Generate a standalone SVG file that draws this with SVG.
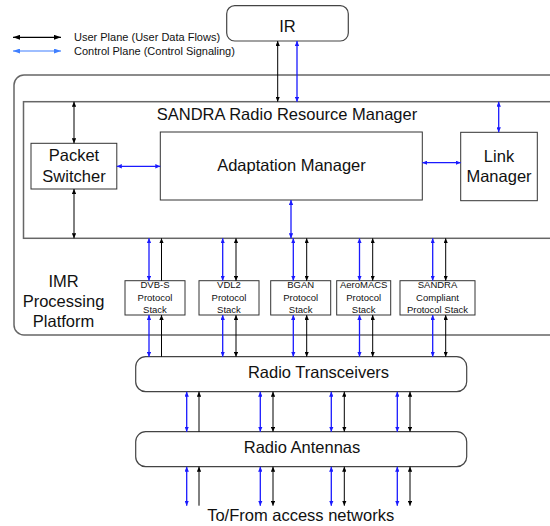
<svg xmlns="http://www.w3.org/2000/svg" width="550" height="526" viewBox="0 0 550 526">
  <style>
    text { font-family: "Liberation Sans", Arial, sans-serif; fill: #111; text-anchor: middle; }
    .big { font-size: 16.5px; }
    .small { font-size: 9.5px; }
    .legend { font-size: 11px; text-anchor: start; }
    .box { fill: #fff; stroke: #333; stroke-width: 1; }
    .frame { fill: #fff; stroke: #666; stroke-width: 1.5; }
    .rbox { fill: #fff; stroke: #444; stroke-width: 1.2; }
    .up { stroke: #000; stroke-width: 1; fill: none; }
    .cp { stroke: #1a1aff; stroke-width: 1.3; fill: none; }
    .dbl-up { marker-start: url(#ahK); marker-end: url(#ahK); }
    .one-up { marker-end: url(#ahK); }
    .dbl-cp { marker-start: url(#ahB); marker-end: url(#ahB); }
  </style>
  <defs>
    <marker id="ahK" viewBox="0 0 5 4.4" refX="5" refY="2.2" markerWidth="5" markerHeight="4.4" markerUnits="userSpaceOnUse" orient="auto-start-reverse">
      <path d="M0,0 L5,2.2 L0,4.4 z" fill="#000"/>
    </marker>
    <marker id="ahB" viewBox="0 0 5 4.4" refX="5" refY="2.2" markerWidth="5" markerHeight="4.4" markerUnits="userSpaceOnUse" orient="auto-start-reverse">
      <path d="M0,0 L5,2.2 L0,4.4 z" fill="#1a1aff"/>
    </marker>
    <marker id="lgK" viewBox="0 0 7 5" refX="7" refY="2.5" markerWidth="7" markerHeight="5" markerUnits="userSpaceOnUse" orient="auto-start-reverse">
      <path d="M0,0 L7,2.5 L0,5 z" fill="#000"/>
    </marker>
    <marker id="lgB" viewBox="0 0 7 5" refX="7" refY="2.5" markerWidth="7" markerHeight="5" markerUnits="userSpaceOnUse" orient="auto-start-reverse">
      <path d="M0,0 L7,2.5 L0,5 z" fill="#3f7fff"/>
    </marker>
  </defs>

  <rect width="550" height="526" fill="#fff"/>

  <!-- legend -->
  <g id="legend">
    <line x1="13" y1="37.3" x2="61" y2="37.3" stroke="#000" stroke-width="1.2" marker-start="url(#lgK)" marker-end="url(#lgK)"/>
    <text class="legend" x="74" y="40.5">User Plane (User Data Flows)</text>
    <line x1="13" y1="51" x2="61" y2="51" stroke="#3f7fff" stroke-width="1.2" marker-start="url(#lgB)" marker-end="url(#lgB)"/>
    <text class="legend" x="74" y="55">Control Plane (Control Signaling)</text>
  </g>

  <!-- platform frame -->
  <g id="imr-platform">
    <rect class="frame" x="14" y="75" width="560" height="260" rx="10"/>
    <text class="big" x="63.5" y="286.7">IMR</text>
    <text class="big" x="63.5" y="306.7">Processing</text>
    <text class="big" x="63.5" y="326.7">Platform</text>
  </g>

  <g id="rrm">
    <rect class="frame" x="23.5" y="101.7" width="550" height="136.6"/>
    <text class="big" x="287" y="120">SANDRA Radio Resource Manager</text>
  </g>

  <g id="ir">
    <rect class="rbox" x="226.7" y="5.7" width="121.6" height="35.3" rx="8"/>
    <text class="big" x="287.5" y="31.7">IR</text>
  </g>

  <g id="packet-switcher">
    <rect class="box" x="31" y="143.3" width="85.8" height="45.7"/>
    <text class="big" x="74" y="160.7">Packet</text>
    <text class="big" x="74" y="181.7">Switcher</text>
  </g>

  <g id="adaptation-manager">
    <rect class="box" x="160.3" y="132" width="262" height="68"/>
    <text class="big" x="291.5" y="170.7">Adaptation Manager</text>
  </g>

  <g id="link-manager">
    <rect class="box" x="460.7" y="132.3" width="76.6" height="68.4"/>
    <text class="big" x="499" y="161.7">Link</text>
    <text class="big" x="499" y="182.3">Manager</text>
  </g>

  <g id="stack-dvbs">
    <rect class="box" x="125" y="280.7" width="60" height="34.3"/>
    <text class="small" x="155" y="287.8">DVB-S</text>
    <text class="small" x="155" y="300.5">Protocol</text>
    <text class="small" x="155" y="312.6">Stack</text>
  </g>
  <g id="stack-vdl2">
    <rect class="box" x="199" y="280.7" width="60" height="34.3"/>
    <text class="small" x="229" y="287.8">VDL2</text>
    <text class="small" x="229" y="300.5">Protocol</text>
    <text class="small" x="229" y="312.6">Stack</text>
  </g>
  <g id="stack-bgan">
    <rect class="box" x="270.7" y="280.7" width="60" height="34.3"/>
    <text class="small" x="300.7" y="287.8">BGAN</text>
    <text class="small" x="300.7" y="300.5">Protocol</text>
    <text class="small" x="300.7" y="312.6">Stack</text>
  </g>
  <g id="stack-aeromacs">
    <rect class="box" x="336.7" y="280.7" width="54" height="34.3"/>
    <text class="small" x="363.7" y="287.8">AeroMACS</text>
    <text class="small" x="363.7" y="300.5">Protocol</text>
    <text class="small" x="363.7" y="312.6">Stack</text>
  </g>
  <g id="stack-sandra">
    <rect class="box" x="400" y="280.7" width="75" height="34.3"/>
    <text class="small" x="437.5" y="287.8">SANDRA</text>
    <text class="small" x="437.5" y="300.5">Compliant</text>
    <text class="small" x="437.5" y="312.6">Protocol Stack</text>
  </g>

  <g id="radio-transceivers">
    <rect class="rbox" x="135.7" y="356.7" width="331" height="35" rx="10"/>
    <text class="big" x="318.5" y="378.3">Radio Transceivers</text>
  </g>

  <g id="radio-antennas">
    <rect class="rbox" x="135.7" y="431.7" width="331" height="35" rx="10"/>
    <text class="big" x="302" y="453.3">Radio Antennas</text>
  </g>

  <g id="access-networks">
    <text class="big" x="300.7" y="521">To/From access networks</text>
  </g>

  <!-- connectors -->
  <g id="connectors">
    <!-- IR <-> RRM -->
    <line class="up dbl-up" x1="277.7" y1="41" x2="277.7" y2="101.7"/>
    <line class="cp dbl-cp" x1="297" y1="41" x2="297" y2="101.7"/>
    <!-- inside RRM -->
    <line class="up dbl-up" x1="74" y1="101.7" x2="74" y2="143.3"/>
    <line class="cp dbl-cp" x1="498.7" y1="101.7" x2="498.7" y2="132.3"/>
    <line class="cp dbl-cp" x1="116.8" y1="166.3" x2="160.3" y2="166.3"/>
    <line class="cp dbl-cp" x1="422.3" y1="162.7" x2="460.7" y2="162.7"/>
    <line class="up dbl-up" x1="74" y1="189" x2="74" y2="238.3"/>
    <line class="cp dbl-cp" x1="291" y1="200" x2="291" y2="238.3"/>

    <!-- RRM <-> protocol stacks -->
    <line class="cp dbl-cp" x1="149" y1="238.3" x2="149" y2="280.7"/>
    <line class="up one-up" x1="161.5" y1="280.7" x2="161.5" y2="238.3"/>
    <line class="cp dbl-cp" x1="222.7" y1="238.3" x2="222.7" y2="280.7"/>
    <line class="up dbl-up" x1="236" y1="238.3" x2="236" y2="280.7"/>
    <line class="cp dbl-cp" x1="293.3" y1="238.3" x2="293.3" y2="280.7"/>
    <line class="up dbl-up" x1="306.7" y1="238.3" x2="306.7" y2="280.7"/>
    <line class="cp dbl-cp" x1="359.5" y1="238.3" x2="359.5" y2="280.7"/>
    <line class="up dbl-up" x1="372.7" y1="238.3" x2="372.7" y2="280.7"/>
    <line class="cp dbl-cp" x1="432.7" y1="238.3" x2="432.7" y2="280.7"/>
    <line class="up dbl-up" x1="445.7" y1="238.3" x2="445.7" y2="280.7"/>

    <!-- protocol stacks <-> transceivers -->
    <line class="cp dbl-cp" x1="149" y1="315" x2="149" y2="356.7"/>
    <line class="up one-up" x1="161.5" y1="356.7" x2="161.5" y2="315"/>
    <line class="cp dbl-cp" x1="222.7" y1="315" x2="222.7" y2="356.7"/>
    <line class="up dbl-up" x1="236" y1="315" x2="236" y2="356.7"/>
    <line class="cp dbl-cp" x1="293.3" y1="315" x2="293.3" y2="356.7"/>
    <line class="up dbl-up" x1="306.7" y1="315" x2="306.7" y2="356.7"/>
    <line class="cp dbl-cp" x1="359.5" y1="315" x2="359.5" y2="356.7"/>
    <line class="up dbl-up" x1="372.7" y1="315" x2="372.7" y2="356.7"/>
    <line class="cp dbl-cp" x1="432.7" y1="315" x2="432.7" y2="356.7"/>
    <line class="up dbl-up" x1="445.7" y1="315" x2="445.7" y2="356.7"/>

    <!-- transceivers <-> antennas -->
    <line class="cp dbl-cp" x1="186.7" y1="391.7" x2="186.7" y2="431.7"/>
    <line class="up one-up" x1="199" y1="431.7" x2="199" y2="391.7"/>
    <line class="cp dbl-cp" x1="260.3" y1="391.7" x2="260.3" y2="431.7"/>
    <line class="up dbl-up" x1="273" y1="391.7" x2="273" y2="431.7"/>
    <line class="cp dbl-cp" x1="331.3" y1="391.7" x2="331.3" y2="431.7"/>
    <line class="up dbl-up" x1="344.3" y1="391.7" x2="344.3" y2="431.7"/>
    <line class="cp dbl-cp" x1="397.3" y1="391.7" x2="397.3" y2="431.7"/>
    <line class="up dbl-up" x1="410" y1="391.7" x2="410" y2="431.7"/>

    <!-- antennas <-> access networks -->
    <line class="cp dbl-cp" x1="186.7" y1="466.7" x2="186.7" y2="505.7"/>
    <line class="up one-up" x1="199" y1="505.7" x2="199" y2="466.7"/>
    <line class="cp dbl-cp" x1="260.3" y1="466.7" x2="260.3" y2="505.7"/>
    <line class="up dbl-up" x1="273" y1="466.7" x2="273" y2="505.7"/>
    <line class="cp dbl-cp" x1="331.3" y1="466.7" x2="331.3" y2="505.7"/>
    <line class="up dbl-up" x1="344.3" y1="466.7" x2="344.3" y2="505.7"/>
    <line class="cp dbl-cp" x1="397.3" y1="466.7" x2="397.3" y2="505.7"/>
    <line class="up dbl-up" x1="410" y1="466.7" x2="410" y2="505.7"/>
  </g>
</svg>
